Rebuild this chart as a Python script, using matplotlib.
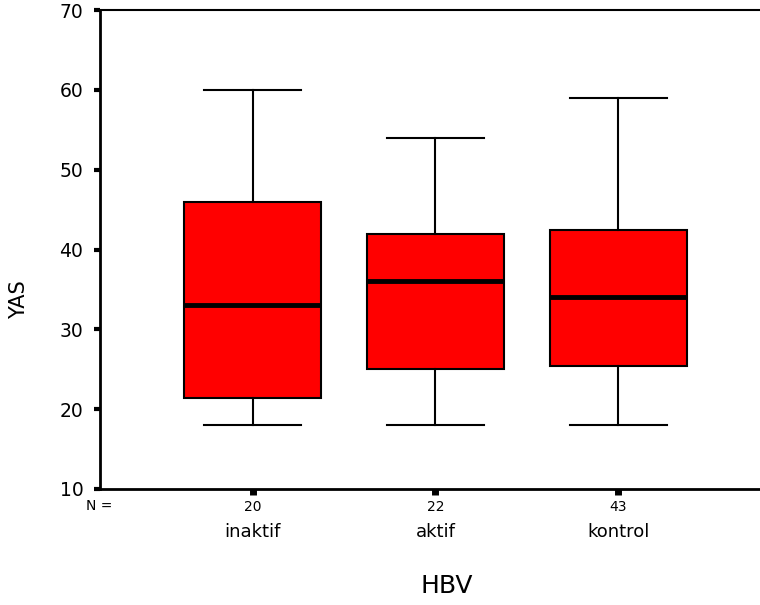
import matplotlib
matplotlib.use("Agg")
import matplotlib.pyplot as plt
from matplotlib.transforms import blended_transform_factory

plt.rcParams['font.family'] = ['DejaVu Sans']

groups = ['inaktif', 'aktif', 'kontrol']
counts = [20, 22, 43]
whisker_low = [18, 18, 18]
q1 = [21.4, 25, 25.4]
median = [33, 36, 34]
q3 = [46, 42, 42.5]
whisker_high = [60, 54, 59]

stats = []
for i, g in enumerate(groups):
    stats.append(dict(label=g, whislo=whisker_low[i], q1=q1[i], med=median[i],
                      q3=q3[i], whishi=whisker_high[i], fliers=[]))

fig = plt.figure(figsize=(7.6, 6.05), dpi=100)
ax = fig.add_axes([100 / 760, 116 / 605, 660 / 760, 479 / 605])

positions = [1, 2, 3]
ax.bxp(stats, positions=positions, widths=0.75, patch_artist=True, showfliers=False,
       boxprops=dict(facecolor='#ff0000', edgecolor='black', linewidth=1.5),
       medianprops=dict(color='black', linewidth=3.5),
       whiskerprops=dict(color='black', linewidth=1.5),
       capprops=dict(color='black', linewidth=1.5),
       capwidths=0.53)

ax.set_xlim(0.164, 3.776)
ax.set_ylim(10, 70)
ax.set_yticks([10, 20, 30, 40, 50, 60, 70])
ax.set_xticks(positions)
ax.set_xticklabels([str(c) for c in counts], fontsize=10)
ax.tick_params(axis='y', labelsize=13.5, length=4, width=3, direction='out', pad=8)
ax.tick_params(axis='x', length=4, width=5, direction='out', pad=4)

ax.spines['right'].set_visible(False)
ax.spines['left'].set_linewidth(2)
ax.spines['bottom'].set_linewidth(2)
ax.spines['top'].set_linewidth(1.5)

trans = blended_transform_factory(ax.transData, fig.transFigure)
for i, g in enumerate(groups):
    ax.text(positions[i], 1 - 532 / 605, g, transform=trans, ha='center',
            va='center', fontsize=13)
fig.text(99 / 760, 1 - 506 / 605, 'N =', ha='center', va='center', fontsize=10)
fig.text(447 / 760, 1 - 586 / 605, 'HBV', ha='center', va='center', fontsize=18)
fig.text(19 / 760, 1 - 300 / 605, 'YAS', ha='center', va='center', fontsize=15,
         rotation=90)

fig.savefig('out.png', dpi=100)
